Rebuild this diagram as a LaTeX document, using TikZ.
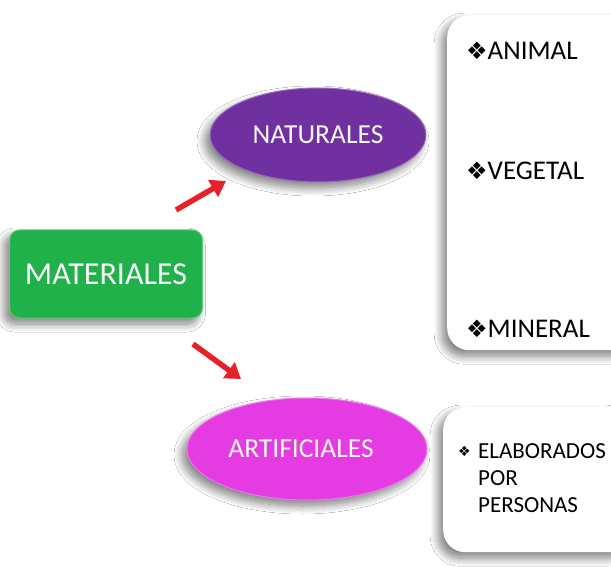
\documentclass[tikz,border=0pt]{standalone}
\usepackage{fontspec}
\setmainfont{Carlito}
\newfontfamily\dvs{DejaVu Sans}
\usetikzlibrary{shapes.geometric,shadows.blur,arrows.meta}
\definecolor{matgreen}{RGB}{32,177,75}
\definecolor{natpurple}{RGB}{112,48,160}
\definecolor{artpink}{RGB}{228,60,226}
\definecolor{arrred}{RGB}{232,32,40}
\begin{document}
\begin{tikzpicture}[x=1pt,y=-1pt,
  sh/.style={blur shadow={shadow xshift=-5pt,shadow yshift=-6pt,shadow blur steps=12,shadow opacity=50,shadow blur radius=8pt}},
  matbox/.style={sh,rectangle,rounded corners=10pt,fill=matgreen,draw=matgreen!70!white,line width=1pt,
    minimum width=193pt,minimum height=88pt,text=white!94!gray,font=\fontsize{32}{36}\selectfont},
  ell/.style={sh,ellipse,line width=1pt,text=white!94!gray,inner sep=0pt},
  wbox/.style={sh,rectangle,rounded corners=22pt,fill=white,draw=none},
  item/.style={anchor=base west,inner sep=0pt,text=black,font=\fontsize{27}{32}\selectfont},
  itemb/.style={anchor=base west,inner sep=0pt,text=black,font=\fontsize{23}{27}\selectfont},
  arr/.style={draw=arrred,line width=5.5pt,-{Triangle[length=15pt,width=19pt]}}
]
\clip (0,0) rectangle (611,567);
\useasboundingbox (0,0) rectangle (611,567);
\fill[white] (0,0) rectangle (611,567);

% right list boxes
\node[wbox,minimum width=190pt,minimum height=335pt,anchor=north west] (list1) at (447,15) {};
\node[wbox,minimum width=190pt,minimum height=145pt,anchor=north west] (list2) at (443,407) {};

% main nodes
\node[matbox] (mat) at (106,274) {MATERIALES};
\node[ell,fill=natpurple,draw=natpurple!70!white,minimum width=216pt,minimum height=94pt,
  font=\fontsize{27.5}{30}\selectfont] (nat) at (318,135) {NATURALES};
\node[ell,fill=artpink,draw=artpink!70!white,minimum width=240pt,minimum height=102pt] (art) at (307,449) {};
\node[text=white!94!gray,font=\fontsize{27.5}{30}\selectfont,inner sep=0pt] (artt) at (301,449) {ARTIFICIALES};

% list items
\node[item] (an) at (466,60) {{\dvs\fontsize{24}{28}\selectfont ❖}ANIMAL};
\node[item] (ve) at (466,180) {{\dvs\fontsize{24}{28}\selectfont ❖}VEGETAL};
\node[item] (mi) at (466,337) {{\dvs\fontsize{24}{28}\selectfont ❖}MINERAL};

\node[itemb,font=\fontsize{14}{16}\selectfont\dvs] (bul) at (458,456) {❖};
\node[itemb] (el1) at (478,458) {ELABORADOS};
\node[itemb] (el2) at (478,485) {POR};
\node[itemb] (el3) at (478,512) {PERSONAS};

% arrows
\coordinate (u1) at (176,210);
\coordinate (u2) at (226,181);
\coordinate (d1) at (193,344);
\coordinate (d2) at (241,379);
\draw[arr] (u1) -- (u2);
\draw[arr] (d1) -- (d2);
\end{tikzpicture}
\end{document}
